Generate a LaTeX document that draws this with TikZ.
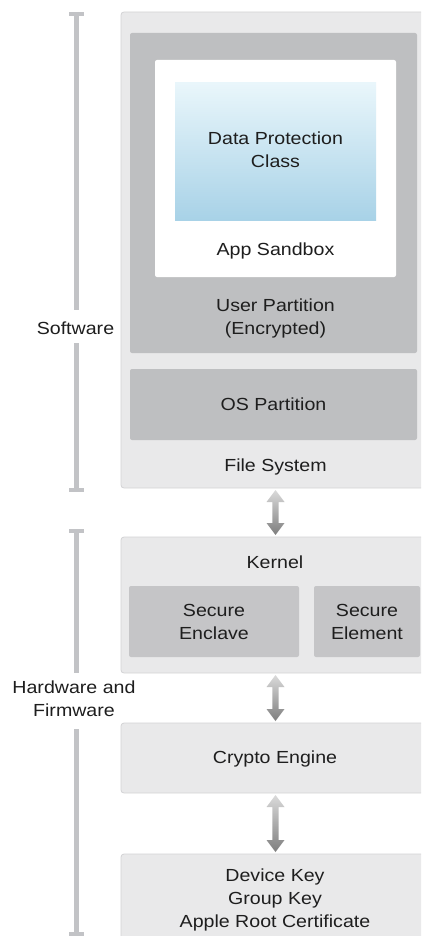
\documentclass[tikz,border=0pt]{standalone}
\usepackage{fontspec}
\setmainfont[FakeStretch=1.12]{Liberation Sans}
\usetikzlibrary{calc}
\definecolor{outerfill}{HTML}{E9E9EA}
\definecolor{outerline}{HTML}{D3D3D5}
\definecolor{partfill}{HTML}{BEBFC1}
\definecolor{secfill}{HTML}{C5C5C7}
\definecolor{bluetop}{HTML}{E9F6FB}
\definecolor{bluebot}{HTML}{A8D2E7}
\definecolor{brk}{HTML}{C2C3C6}
\definecolor{txt}{HTML}{1E1E1E}
\definecolor{arrtop}{HTML}{DADADA}
\definecolor{arrbot}{HTML}{7E7E7E}
\tikzset{
  panel/.style={draw=outerline, line width=0.8pt, fill=outerfill, rounded corners=3pt, anchor=north west, inner sep=0pt, outer sep=0pt},
  part/.style={fill=partfill, rounded corners=2pt, anchor=north west, inner sep=0pt, outer sep=0pt},
  secbox/.style={fill=secfill, rounded corners=2pt, anchor=north west, inner sep=0pt, outer sep=0pt},
  sandbox/.style={fill=white, rounded corners=2pt, anchor=north west, inner sep=0pt, outer sep=0pt},
  dpcbox/.style={top color=bluetop, bottom color=bluebot, draw=none, anchor=north west, inner sep=0pt, outer sep=0pt},
  lbl/.style={font=\fontsize{17.5}{23}\selectfont, text=txt, align=center, inner sep=0pt},
  bar/.style={draw=brk, line width=5pt},
  capline/.style={draw=brk, line width=4.5pt},
}
\newcommand{\dblarrow}[2]{%
  \shade[top color=arrtop, bottom color=arrbot]
    let \p1=(#1.south), \p2=(#2.north) in
    (\x1,\y1-2pt) -- (\x1+9pt,\y1-14pt) -- (\x1+3.2pt,\y1-14pt) -- (\x1+3.2pt,\y2+14pt)
    -- (\x1+9pt,\y2+14pt) -- (\x1,\y2+2pt) -- (\x1-9pt,\y2+14pt) -- (\x1-3.2pt,\y2+14pt)
    -- (\x1-3.2pt,\y1-14pt) -- (\x1-9pt,\y1-14pt) -- cycle;}
\begin{document}
\begin{tikzpicture}[x=1pt, y=-1pt]
\useasboundingbox (0,0) rectangle (421,936);
\clip (0,0) rectangle (421,936);

% software stack
\node[panel, minimum width=309pt, minimum height=476pt] (fs) at (121,12) {};
\node[part, minimum width=287pt, minimum height=320pt] (user) at (130,33) {};
\node[sandbox, minimum width=241pt, minimum height=217pt] (sb) at (155,60) {};
\node[dpcbox, minimum width=201pt, minimum height=137pt] (dpc) at (175,83) {};
\node[lbl] (dpct) at (275.5,150) {Data Protection\\Class};
\node[lbl] (sbt) at (275.5,251) {App Sandbox};
\node[lbl] (usert) at (275.5,318) {User Partition\\(Encrypted)};
\node[part, minimum width=287pt, minimum height=71pt] (os) at (130,369) {};
\node[lbl] (ost) at (273.5,404) {OS Partition};
\node[lbl] (fst) at (275.5,467) {File System};

% hardware stack
\node[panel, minimum width=309pt, minimum height=136pt] (kern) at (121,537) {};
\node[lbl] (kernt) at (275,562) {Kernel};
\node[secbox, minimum width=170pt, minimum height=71pt] (enc) at (129,586) {};
\node[lbl] (enct) at (214,622) {Secure\\Enclave};
\node[secbox, minimum width=106pt, minimum height=71pt] (elem) at (314,586) {};
\node[lbl] (elemt) at (367,622) {Secure\\Element};
\node[panel, minimum width=309pt, minimum height=70pt] (crypto) at (121,723) {};
\node[lbl] (cryptot) at (275,759) {Crypto Engine};
\node[panel, minimum width=309pt, minimum height=100pt] (keys) at (121,854) {};
\node[lbl] (keyst) at (275,900) {Device Key\\Group Key\\Apple Root Certificate};

% double arrows
\dblarrow{fs}{kern}
\dblarrow{kern}{crypto}
\dblarrow{crypto}{keys}

% brackets
\node[lbl] (sw) at (75.5,328) {Software};
\coordinate (swtop) at (76.5,12);
\coordinate (swa) at (76.5,310);
\coordinate (swb) at (76.5,343);
\coordinate (swbot) at (76.5,492);
\draw[bar] (swtop) -- (swa);
\draw[bar] (swb) -- (swbot);
\draw[capline] ($(swtop)+(-7.5,2.2)$) -- ($(swtop)+(7.5,2.2)$);
\draw[capline] ($(swbot)+(-7.5,-2.2)$) -- ($(swbot)+(7.5,-2.2)$);

\node[lbl] (hw) at (74,699) {Hardware and\\Firmware};
\coordinate (hwtop) at (76.5,529);
\coordinate (hwa) at (76.5,673);
\coordinate (hwb) at (76.5,729);
\coordinate (hwbot) at (76.5,936);
\draw[bar] (hwtop) -- (hwa);
\draw[bar] (hwb) -- (hwbot);
\draw[capline] ($(hwtop)+(-7.5,2.2)$) -- ($(hwtop)+(7.5,2.2)$);
\draw[capline] ($(hwbot)+(-7.5,-2.2)$) -- ($(hwbot)+(7.5,-2.2)$);
\end{tikzpicture}
\end{document}
